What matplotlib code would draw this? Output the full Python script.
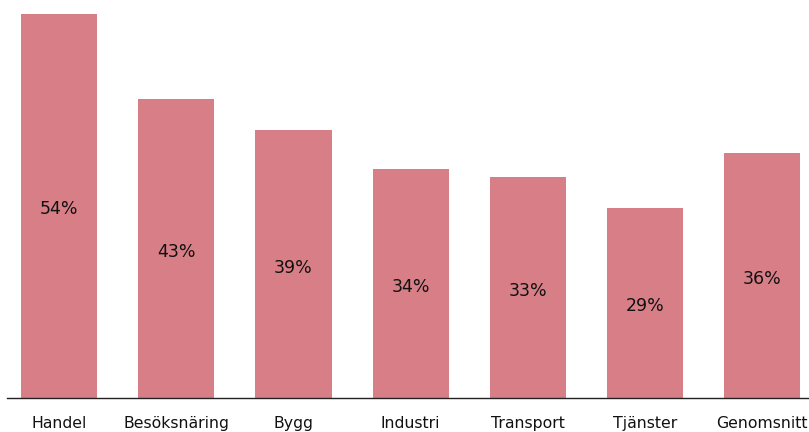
from matplotlib import pyplot as plt
import numpy as np

# sector data
sectors = ["Handel", "Besöksnäring", "Bygg", "Industri", "Transport", "Tjänster", "Genomsnitt"]
shares = [54, 43, 39, 34, 33, 29, 36]
labels = ["54%", "43%", "39%", "34%", "33%", "29%", "36%"]

plt.rcParams['font.family'] = ['DejaVu Sans']

fig = plt.figure(figsize=(8.09, 4.32), dpi=100)
ax = fig.add_axes([7/809, 34/432, 1 - 7/809, 398/432])

x = np.arange(len(sectors))
ax.bar(x, shares, width=0.65, color="#d87e87")

ymin, ymax = 4.45, 55.8
for xi, v, lab in zip(x, shares, labels):
    ax.annotate(lab, (xi, (v + ymin) / 2), xytext=(0, -2.5), textcoords="offset points",
                ha="center", va="center", fontsize=12.5, color="#111111")

ax.set_xlim(-0.445, 6.4)
ax.set_ylim(ymin, ymax)
ax.set_xticks(x)
ax.set_xticklabels(sectors, fontsize=11.3, color="#111111")
ax.tick_params(axis="x", length=0, pad=13)
ax.set_yticks([])
for s in ["top", "right", "left"]:
    ax.spines[s].set_visible(False)
ax.spines["bottom"].set_color("#222222")
ax.spines["bottom"].set_linewidth(1)

fig.savefig("out.png", dpi=100)
